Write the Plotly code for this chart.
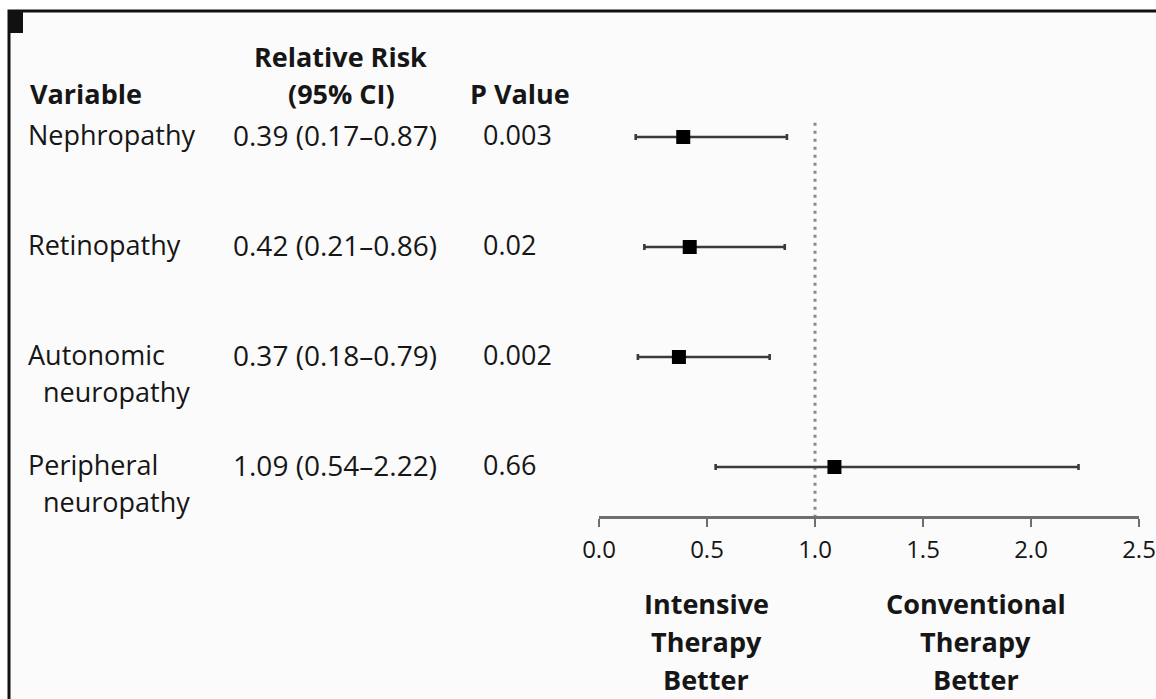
import plotly.graph_objects as go

# ---------------- data ----------------
variables = ["Nephropathy", "Retinopathy", "Autonomic", "Peripheral"]
variables_line2 = ["", "", "neuropathy", "neuropathy"]
rr = [0.39, 0.42, 0.37, 1.09]
ci_low = [0.17, 0.21, 0.18, 0.54]
ci_high = [0.87, 0.86, 0.79, 2.22]
p_values = ["0.003", "0.02", "0.002", "0.66"]
x_ticks = [0.0, 0.5, 1.0, 1.5, 2.0, 2.5]
left_label = ["Intensive", "Therapy", "Better"]
right_label = ["Conventional", "Therapy", "Better"]

W, H = 1156, 699
FONT = "Open Sans"
TXT = "#161616"
FS = 27


def fx(px):
    return px / W


def fy(py):
    return 1 - py / H


rows = list(range(len(variables)))

fig = go.Figure()

# reference (no-effect) line at 1.0
fig.add_trace(go.Scatter(
    x=[1.0, 1.0], y=[-0.13, 3.4455], mode="lines",
    line=dict(color="#8a8a8a", width=3, dash="3px,5px"),
    hoverinfo="skip", showlegend=False,
))

# CI bars and point estimates
fig.add_trace(go.Scatter(
    x=rr, y=rows, mode="markers",
    marker=dict(symbol="square", size=14, color="#000000"),
    error_x=dict(type="data", symmetric=False,
                 array=[h - r for h, r in zip(ci_high, rr)],
                 arrayminus=[r - l for r, l in zip(rr, ci_low)],
                 color="#3a3a3a", thickness=2.6, width=3),
    showlegend=False,
))

annotations = []
# headers
annotations.append(dict(text="<b>Variable</b>", x=fx(28), y=fy(93), xanchor="left"))
annotations.append(dict(text="<b>Relative Risk</b>", x=fx(340), y=fy(56), xanchor="center"))
annotations.append(dict(text="<b>(95% CI)</b>", x=fx(341), y=fy(93), xanchor="center"))
annotations.append(dict(text="<b>P Value</b>", x=fx(468), y=fy(93), xanchor="left"))

for i in rows:
    annotations.append(dict(text=variables[i], x=fx(26), y=i - 0.02, yref="y", xanchor="left"))
    if variables_line2[i]:
        annotations.append(dict(text=variables_line2[i], x=fx(41), y=i + 0.316,
                                yref="y", xanchor="left"))
    annotations.append(dict(text=f"{rr[i]:.2f} ({ci_low[i]:.2f}\u2013{ci_high[i]:.2f})",
                            x=fx(231), y=i - 0.02, yref="y", xanchor="left",
                            font_size=28))
    annotations.append(dict(text=p_values[i], x=fx(481), y=i - 0.02, yref="y", xanchor="left"))

line_y = [603, 641, 679]
for t, py in zip(left_label, line_y):
    annotations.append(dict(text=f"<b>{t}</b>", x=fx(706), y=fy(py), xanchor="center"))
for t, py in zip(right_label, line_y):
    annotations.append(dict(text=f"<b>{t}</b>", x=fx(976), y=fy(py), xanchor="center"))

for a in annotations:
    a.setdefault("xref", "paper")
    a.setdefault("yref", "paper")
    size = a.pop("font_size", FS)
    a.update(showarrow=False, yanchor="middle",
             font=dict(family=FONT, size=size, color=TXT))

shapes = [
    # frame
    dict(type="rect", xref="paper", yref="paper",
         x0=fx(9), x1=fx(1200), y0=fy(11), y1=fy(760),
         fillcolor="#fbfbfb", line=dict(color="#111111", width=3), layer="below"),
    # panel marker
    dict(type="rect", xref="paper", yref="paper",
         x0=fx(10), x1=fx(23), y0=fy(12), y1=fy(33),
         fillcolor="#111111", line=dict(width=0), layer="below"),
]

fig.update_layout(
    width=W, height=H,
    margin=dict(l=0, r=0, t=0, b=0, autoexpand=False),
    paper_bgcolor="#ffffff",
    plot_bgcolor="rgba(0,0,0,0)",
    annotations=annotations,
    shapes=shapes,
    xaxis=dict(
        domain=[fx(599), fx(1139)],
        range=[0, 2.5],
        tickvals=x_ticks,
        ticktext=[f"{v:.1f}" for v in x_ticks],
        showgrid=False, zeroline=False,
        showline=True, linecolor="#6f6f6f", linewidth=3,
        ticks="outside", ticklen=8, tickwidth=2, tickcolor="#6f6f6f",
        ticklabelstandoff=2,
        tickfont=dict(family=FONT, size=24, color=TXT),
        anchor="y",
        automargin=False,
    ),
    yaxis=dict(
        domain=[fy(516), 1],
        range=[3.4455, -1.2455],
        visible=False,
        showgrid=False, zeroline=False,
        automargin=False,
    ),
)

fig.write_html("out.html")
